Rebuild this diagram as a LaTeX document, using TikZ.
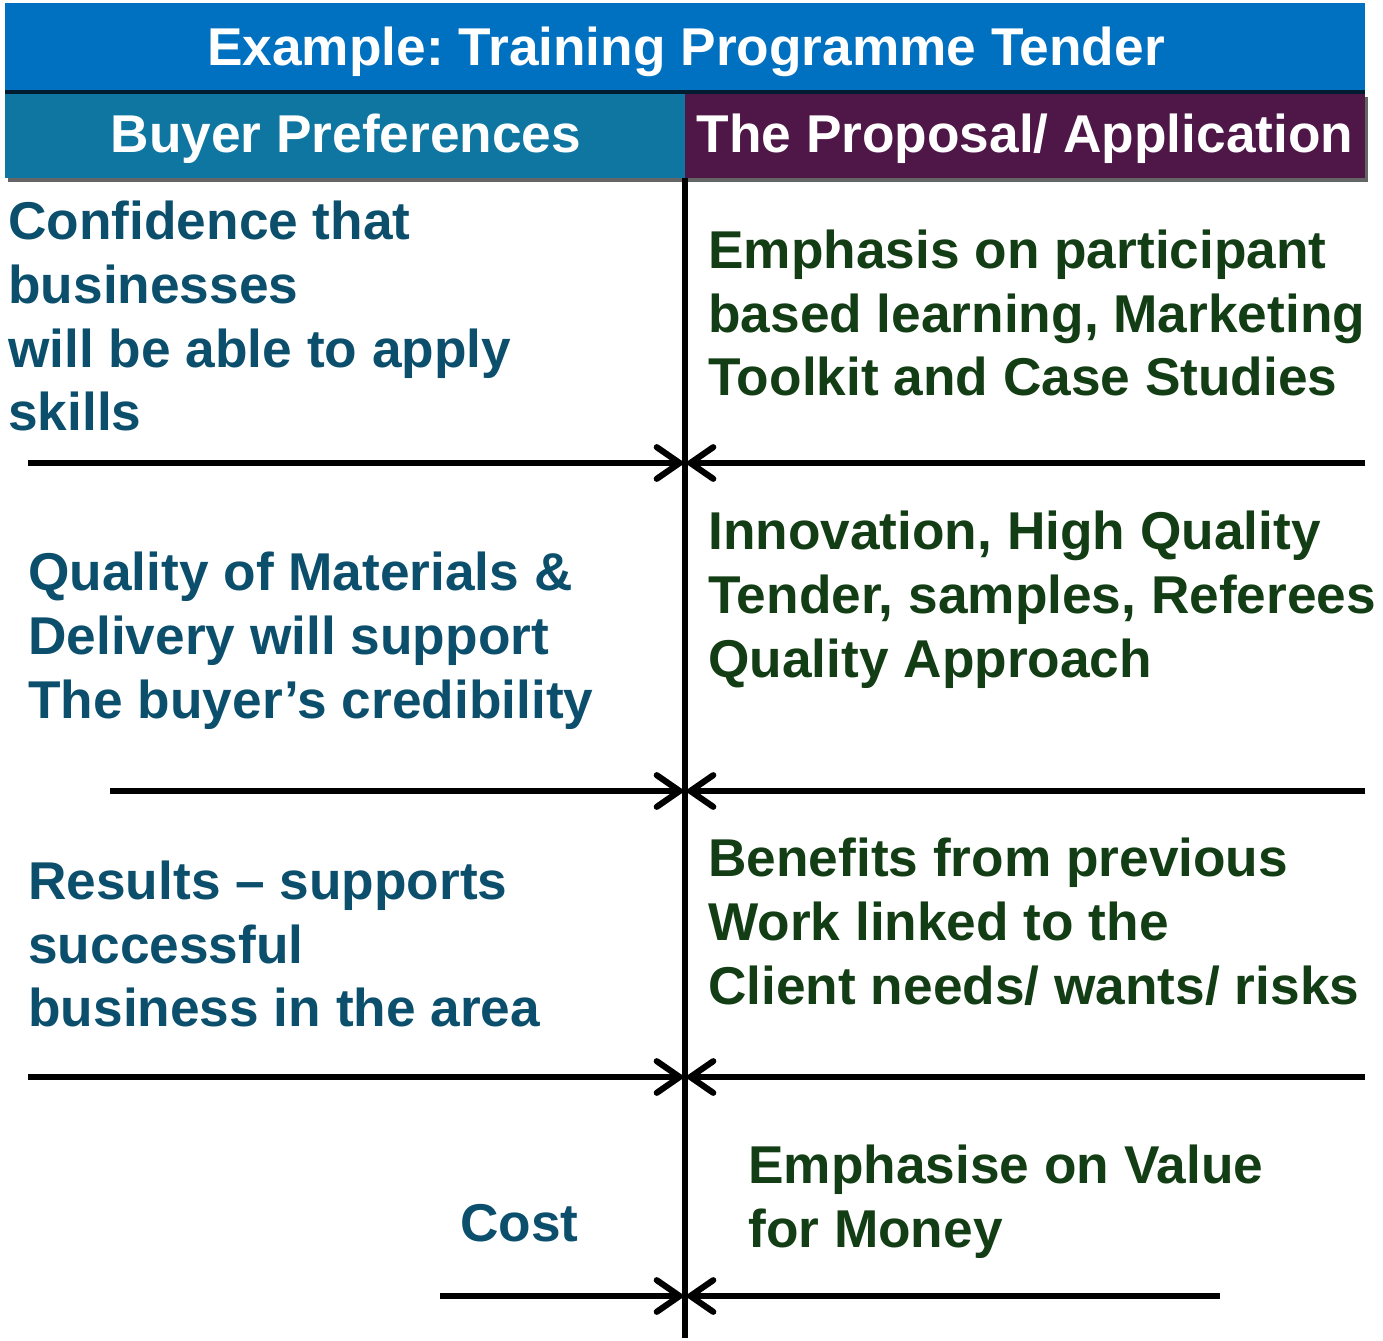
\documentclass[tikz,border=0pt]{standalone}
\usepackage{fontspec}
\setmainfont{Liberation Sans}
\usetikzlibrary{arrows.meta}
\frenchspacing

\definecolor{titleblue}{HTML}{0070C0}
\definecolor{buyerteal}{HTML}{0E76A0}
\definecolor{offerplum}{HTML}{4F1748}
\definecolor{buyerink}{HTML}{0B4F6C}
\definecolor{offerink}{HTML}{133D14}
\definecolor{shadowgrey}{HTML}{656565}

\begin{document}
\begin{tikzpicture}[x=0.02cm,y=-0.02cm,
  every node/.style={inner sep=0pt,font=\fontsize{30.3}{36.4}\selectfont\bfseries},
  head/.style={text=white},
  buyer/.style={text=buyerink,align=left,anchor=west},
  offer/.style={text=offerink,align=left,anchor=west},
  meet/.style={line width=3.5pt,-{Straight Barb[length=13pt,width=18pt,line cap=round]}}]
\useasboundingbox (0,0) rectangle (1383,1341);

% title bar and the two column heads
\fill[titleblue] (5,3) rectangle (1365,90);
\fill[black!75!titleblue] (5,90) rectangle (1365,94);
\fill[shadowgrey] (8,178) rectangle (1368,182);
\fill[shadowgrey] (1365,97) rectangle (1368,182);
\fill[buyerteal] (5,94) rectangle (685,178);
\fill[offerplum] (685,94) rectangle (1365,178);
\node[head] (title) at (686,52) {Example: Training Programme Tender};
\node[head] (buyhead) at (346,139) {Buyer Preferences};
\node[head] (offhead) at (1025,139) {The Proposal/ Application};

% centre line
\coordinate (top) at (685,178);
\coordinate (bottom) at (685,1338);
\draw[line width=3.4pt] (top) -- (bottom);

% meeting points on the centre line
\coordinate (m1) at (685,463);
\coordinate (m2) at (685,791);
\coordinate (m3) at (685,1077);
\coordinate (m4) at (685,1296);
\coordinate (l1) at (28,463);   \coordinate (r1) at (1365,463);
\coordinate (l2) at (110,791);  \coordinate (r2) at (1365,791);
\coordinate (l3) at (28,1077);  \coordinate (r3) at (1365,1077);
\coordinate (l4) at (440,1296); \coordinate (r4) at (1220,1296);
\foreach \i in {1,...,4} {
  \draw[meet] (l\i) -- (m\i);
  \draw[meet] (r\i) -- (m\i);
}

% buyer side
\node[buyer] (trust) at (8,316) {Confidence that\\businesses\\will be able to apply\\skills};
\node[buyer] (quality) at (28,641) {Quality of Materials \&\\Delivery will support\\The buyer’s credibility};
\node[buyer] (results) at (28,944) {Results – supports\\successful\\business in the area};
\node[buyer] (cost) at (460,1223) {Cost};

% proposal side
\node[offer] (learning) at (708,313) {Emphasis on participant\\based learning, Marketing\\Toolkit and Case Studies};
\node[offer] (innovation) at (708,600) {Innovation, High Quality\\Tender, samples, Referees\\Quality Approach};
\node[offer] (benefits) at (708,922) {Benefits from previous\\Work linked to the\\Client needs/ wants/ risks};
\node[offer] (value) at (748,1202) {Emphasise on Value\\for Money};
\end{tikzpicture}
\end{document}
